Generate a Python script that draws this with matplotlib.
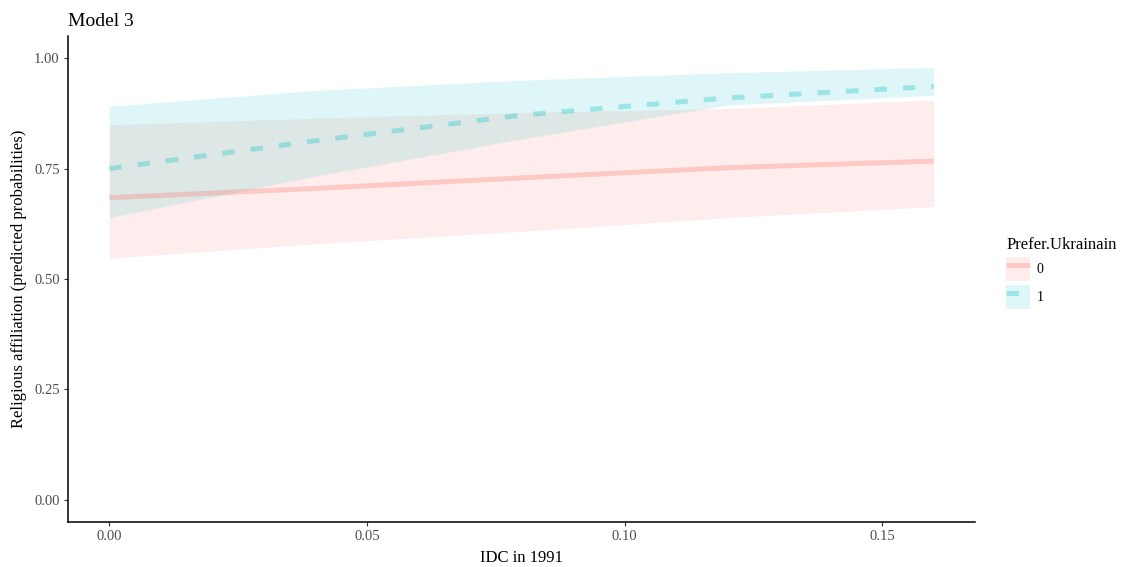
import numpy as np
import matplotlib.pyplot as plt
import matplotlib as mpl
from matplotlib.patches import Patch
from matplotlib.lines import Line2D

mpl.rcParams['font.family'] = ['Liberation Serif', 'DejaVu Serif']

# predicted probabilities with 95% bands, read at a few IDC values
idc = [0.00, 0.04, 0.08, 0.12, 0.16]
p0 = [0.684, 0.705, 0.729, 0.752, 0.767]
lo0 = [0.547, 0.580, 0.608, 0.639, 0.664]
hi0 = [0.849, 0.864, 0.877, 0.886, 0.905]
p1 = [0.750, 0.813, 0.871, 0.910, 0.936]
lo1 = [0.639, 0.733, 0.817, 0.894, 0.916]
hi1 = [0.891, 0.927, 0.950, 0.967, 0.979]
groups = ['0', '1']

red = '#F8766D'
cyan = '#00BFC4'
band_alpha = 0.13
line_alpha = 0.3
dash = (2.5, 3.2)

fig = plt.figure(figsize=(11.21, 5.67), dpi=100)
ax = fig.add_axes([0.0607, 0.0794, 0.809, 0.857])

ax.fill_between(idc, lo0, hi0, color=red, alpha=band_alpha, lw=0)
ax.fill_between(idc, lo1, hi1, color=cyan, alpha=band_alpha, lw=0)
ax.plot(idc, p0, color=red, alpha=line_alpha, lw=3.6, solid_capstyle='butt')
ax.plot(idc, p1, color=cyan, alpha=line_alpha, lw=3.6,
        dashes=dash, dash_capstyle='butt')

ax.set_xlim(-0.008, 0.168)
ax.set_ylim(-0.05, 1.05)
ax.set_xticks([0.00, 0.05, 0.10, 0.15])
ax.set_xticklabels(['0.00', '0.05', '0.10', '0.15'])
ax.set_yticks([0.00, 0.25, 0.50, 0.75, 1.00])
ax.set_yticklabels(['0.00', '0.25', '0.50', '0.75', '1.00'])
for s in ['top', 'right']:
    ax.spines[s].set_visible(False)
for s in ['left', 'bottom']:
    ax.spines[s].set_linewidth(1.1)
    ax.spines[s].set_color('black')
ax.tick_params(length=3, width=0.8, color='#333333', labelcolor='#4d4d4d',
               labelsize=10.5, pad=3)

ax.set_xlabel('IDC in 1991', fontsize=12, labelpad=5)
ax.set_ylabel('Religious affiliation (predicted probabilities)', fontsize=12,
              labelpad=5)
ax.set_title('Model 3', loc='left', fontsize=14, pad=7)

handles = [
    (Patch(facecolor=red, alpha=band_alpha, lw=0),
     Line2D([], [], color=red, alpha=line_alpha, lw=3.6,
            solid_capstyle='butt')),
    (Patch(facecolor=cyan, alpha=band_alpha, lw=0),
     Line2D([], [], color=cyan, alpha=line_alpha, lw=3.6,
            dashes=dash, dash_capstyle='butt')),
]
leg = fig.legend(handles, groups, title='Prefer.Ukrainain', loc='upper left',
                 bbox_to_anchor=(0.889, 0.60), frameon=False, fontsize=10,
                 title_fontsize=12, handlelength=1.7, handleheight=2.3,
                 handletextpad=0.5, labelspacing=0.3, borderpad=0.2)
leg._legend_box.align = 'left'

fig.savefig('out.png', dpi=100)
